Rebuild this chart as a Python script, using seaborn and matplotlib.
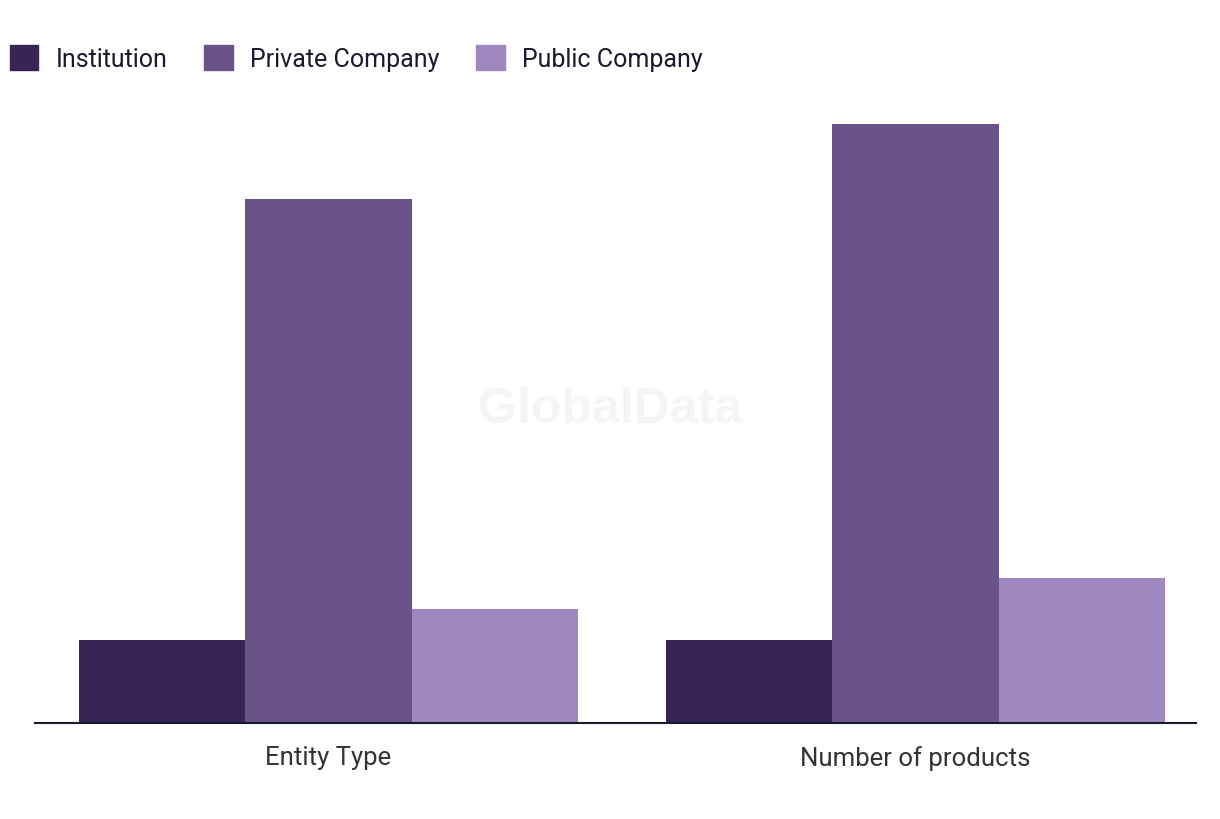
import numpy as np
import pandas as pd
import matplotlib
matplotlib.use("Agg")
import matplotlib.pyplot as plt
import seaborn as sns

CATEGORIES = ["Entity Type", "Number of products"]
SERIES     = ["Institution", "Private Company", "Public Company"]
INSTITUTION = [8, 8]
PRIVATE     = [50.5, 57.7]
PUBLIC      = [11, 14]

COLOURS = {"Institution": "#352454", "Private Company": "#6a5389",
           "Public Company": "#9f87c0"}

df = pd.DataFrame({
    "category": CATEGORIES * 3,
    "series": [s for s in SERIES for _ in CATEGORIES],
    "value": INSTITUTION + PRIVATE + PUBLIC,
})

sns.set_theme(style="white")
plt.rcParams["font.family"] = ["Roboto", "DejaVu Sans"]

fig = plt.figure(figsize=(12.2, 8.2), dpi=100)
ax = fig.add_axes([35/1220, 96/820, 1161/1220, 625/820])

sns.barplot(data=df, x="category", y="value", hue="series", order=CATEGORIES,
            hue_order=SERIES, palette=COLOURS, width=0.85, saturation=1,
            linewidth=0, ax=ax, legend=False)

ax.set_xlim(-0.5, 1.478)
ax.set_ylim(0, 60.2)
ax.set_xlabel(""); ax.set_ylabel("")
ax.set_yticks([])
for s in ["top", "right", "left"]:
    ax.spines[s].set_visible(False)
ax.spines["bottom"].set_color("#1a1a2e")
ax.spines["bottom"].set_linewidth(1.5)
ax.tick_params(axis="x", length=0, pad=16, labelsize=18.5, labelcolor="#333333")

fig.text(0.5, 0.5, "GlobalData", ha="center", va="center", fontsize=36,
         fontweight="bold", color="#f5f5f5", family=["Liberation Sans", "DejaVu Sans"],
         zorder=0)

handles = [plt.Rectangle((0, 0), 1, 1, color=COLOURS[s]) for s in SERIES]
fig.legend(handles, SERIES, loc="upper left", bbox_to_anchor=(-0.0065, 0.965),
           ncol=3, frameon=False, fontsize=18, handlelength=1.15,
           handleheight=1.15, handletextpad=0.7, columnspacing=1.45,
           labelcolor="#1a1a2e", borderaxespad=0.3)

fig.savefig("out.png", dpi=100)
